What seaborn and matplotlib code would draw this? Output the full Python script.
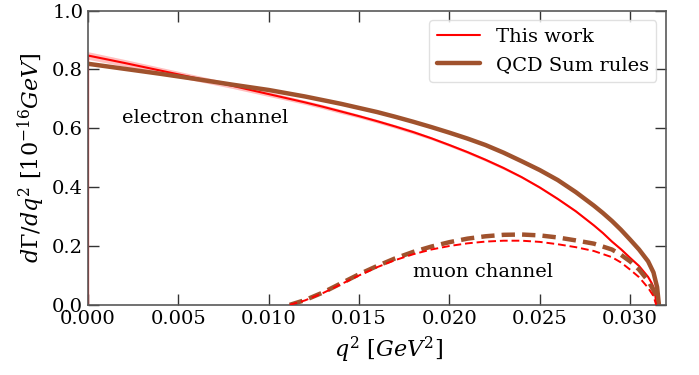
import numpy as np
import pandas as pd
import matplotlib
matplotlib.use("Agg")
import matplotlib.pyplot as plt
import seaborn as sns

# ---- data ----
q_e_this = [0.0, 2.6e-7, 0.002, 0.004, 0.006, 0.008, 0.010, 0.012, 0.013, 0.014, 0.015,
            0.016, 0.017, 0.018, 0.019, 0.020, 0.021, 0.022, 0.023, 0.024, 0.025, 0.026,
            0.027, 0.028, 0.0285, 0.029, 0.0295, 0.030, 0.0305, 0.031, 0.0312, 0.0313,
            0.0314, 0.03145]
e_this = [0.0, 0.847, 0.822, 0.796, 0.770, 0.744, 0.716, 0.688, 0.673, 0.657, 0.641,
          0.624, 0.606, 0.587, 0.566, 0.543, 0.519, 0.493, 0.465, 0.434, 0.399, 0.360,
          0.318, 0.270, 0.244, 0.215, 0.189, 0.160, 0.132, 0.095, 0.074, 0.060,
          0.035, 0.0]
e_this_err = [0.0, 0.013, 0.012, 0.011, 0.010, 0.009, 0.008, 0.007, 0.007, 0.007, 0.006,
              0.006, 0.006, 0.006, 0.005, 0.005, 0.005, 0.005, 0.005, 0.004, 0.004, 0.004,
              0.004, 0.003, 0.003, 0.003, 0.003, 0.003, 0.002, 0.002, 0.002, 0.002,
              0.001, 0.0]

q_e_qcd = [2.6e-7, 0.002, 0.004, 0.006, 0.008, 0.010, 0.012, 0.014, 0.016, 0.017, 0.018,
           0.019, 0.020, 0.021, 0.022, 0.023, 0.024, 0.025, 0.026, 0.027, 0.028, 0.0285,
           0.029, 0.0295, 0.030, 0.0305, 0.031, 0.0313, 0.0315, 0.0316]
e_qcd = [0.819, 0.802, 0.785, 0.767, 0.748, 0.730, 0.708, 0.683, 0.655, 0.639, 0.622,
         0.604, 0.585, 0.565, 0.543, 0.517, 0.488, 0.458, 0.424, 0.383, 0.337, 0.312,
         0.285, 0.255, 0.222, 0.188, 0.148, 0.110, 0.060, 0.0]

q_mu_this = [0.01116, 0.012, 0.013, 0.014, 0.015, 0.016, 0.017, 0.018, 0.019, 0.020, 0.021,
             0.022, 0.023, 0.024, 0.025, 0.026, 0.027, 0.028, 0.029, 0.0295, 0.030, 0.0305,
             0.031, 0.0313, 0.03145]
mu_this = [0.0, 0.015, 0.040, 0.070, 0.100, 0.128, 0.152, 0.172, 0.188, 0.200, 0.209,
           0.215, 0.218, 0.218, 0.214, 0.206, 0.196, 0.183, 0.162, 0.144, 0.120, 0.094,
           0.058, 0.030, 0.0]

q_mu_qcd = [0.01116, 0.012, 0.013, 0.014, 0.015, 0.016, 0.017, 0.018, 0.019, 0.020, 0.021,
            0.022, 0.023, 0.024, 0.025, 0.026, 0.027, 0.028, 0.029, 0.0295, 0.030, 0.0305,
            0.031, 0.0313, 0.0316]
mu_qcd = [0.0, 0.016, 0.042, 0.073, 0.104, 0.132, 0.158, 0.180, 0.198, 0.213, 0.225,
          0.233, 0.238, 0.239, 0.236, 0.229, 0.219, 0.208, 0.188, 0.170, 0.148, 0.120,
          0.082, 0.050, 0.0]

labels = ["This work", "QCD Sum rules"]
x_ticks = [0.000, 0.005, 0.010, 0.015, 0.020, 0.025, 0.030]
y_ticks = [0.0, 0.2, 0.4, 0.6, 0.8, 1.0]

# ---- style ----
sns.set_style("ticks")
plt.rcParams["font.family"] = ["DejaVu Serif"]
plt.rcParams["mathtext.fontset"] = "dejavuserif"
plt.rcParams["text.color"] = "black"
plt.rcParams["axes.labelcolor"] = "black"
plt.rcParams["xtick.color"] = "black"
plt.rcParams["ytick.color"] = "black"

RED = "#ff0000"
BROWN = "#a0522d"

fig, ax = plt.subplots(figsize=(6.99, 3.75), dpi=100)
fig.subplots_adjust(left=0.126, right=0.953, top=0.972, bottom=0.187)

# band for this work
ax.fill_between(q_e_this, np.array(e_this) - np.array(e_this_err),
                np.array(e_this) + np.array(e_this_err), color=RED, alpha=0.25, lw=0)

sns.lineplot(x=q_e_this, y=e_this, ax=ax, color=RED, lw=1.5, sort=False,
             label=labels[0], estimator=None)
sns.lineplot(x=q_e_qcd, y=e_qcd, ax=ax, color=BROWN, lw=3.2, sort=False,
             label=labels[1], estimator=None)
sns.lineplot(x=q_mu_this, y=mu_this, ax=ax, color=RED, lw=1.4, sort=False,
             estimator=None)
sns.lineplot(x=q_mu_qcd, y=mu_qcd, ax=ax, color=BROWN, lw=3.2, sort=False,
             estimator=None)
ax.lines[2].set_linestyle((0, (4, 2)))
ax.lines[3].set_linestyle((0, (3, 1.6)))
ax.lines[2].set_zorder(3)

ax.set_xlim(0, 0.032)
ax.set_ylim(0, 1.0)
ax.set_xticks(x_ticks)
ax.set_yticks(y_ticks)
ax.set_xticklabels([f"{t:.3f}" for t in x_ticks])
ax.set_yticklabels([f"{t:.1f}" for t in y_ticks])
ax.tick_params(direction="in", top=True, right=True, length=8, width=1,
               labelsize=14, color="0.2")
for s in ax.spines.values():
    s.set_color("0.35")
    s.set_linewidth(1.2)

ax.set_xlabel(r"$q^2\ [GeV^2]$", fontsize=16, labelpad=2)
ax.xaxis.set_label_coords(0.52, -0.1)
ax.set_ylabel(r"$d\Gamma/dq^2\ [10^{-16}GeV]$", fontsize=16, labelpad=4)

ax.text(0.0019, 0.634, "electron channel", fontsize=14, va="center", ha="left")
ax.text(0.0180, 0.112, "muon channel", fontsize=14, va="center", ha="left")

leg = ax.legend(loc="upper right", fontsize=14, frameon=True, fancybox=True,
                borderaxespad=0.5, handlelength=2.2)
leg.get_frame().set_edgecolor("0.85")
for t in leg.get_texts():
    t.set_color("black")

fig.savefig("out.png", dpi=100)
